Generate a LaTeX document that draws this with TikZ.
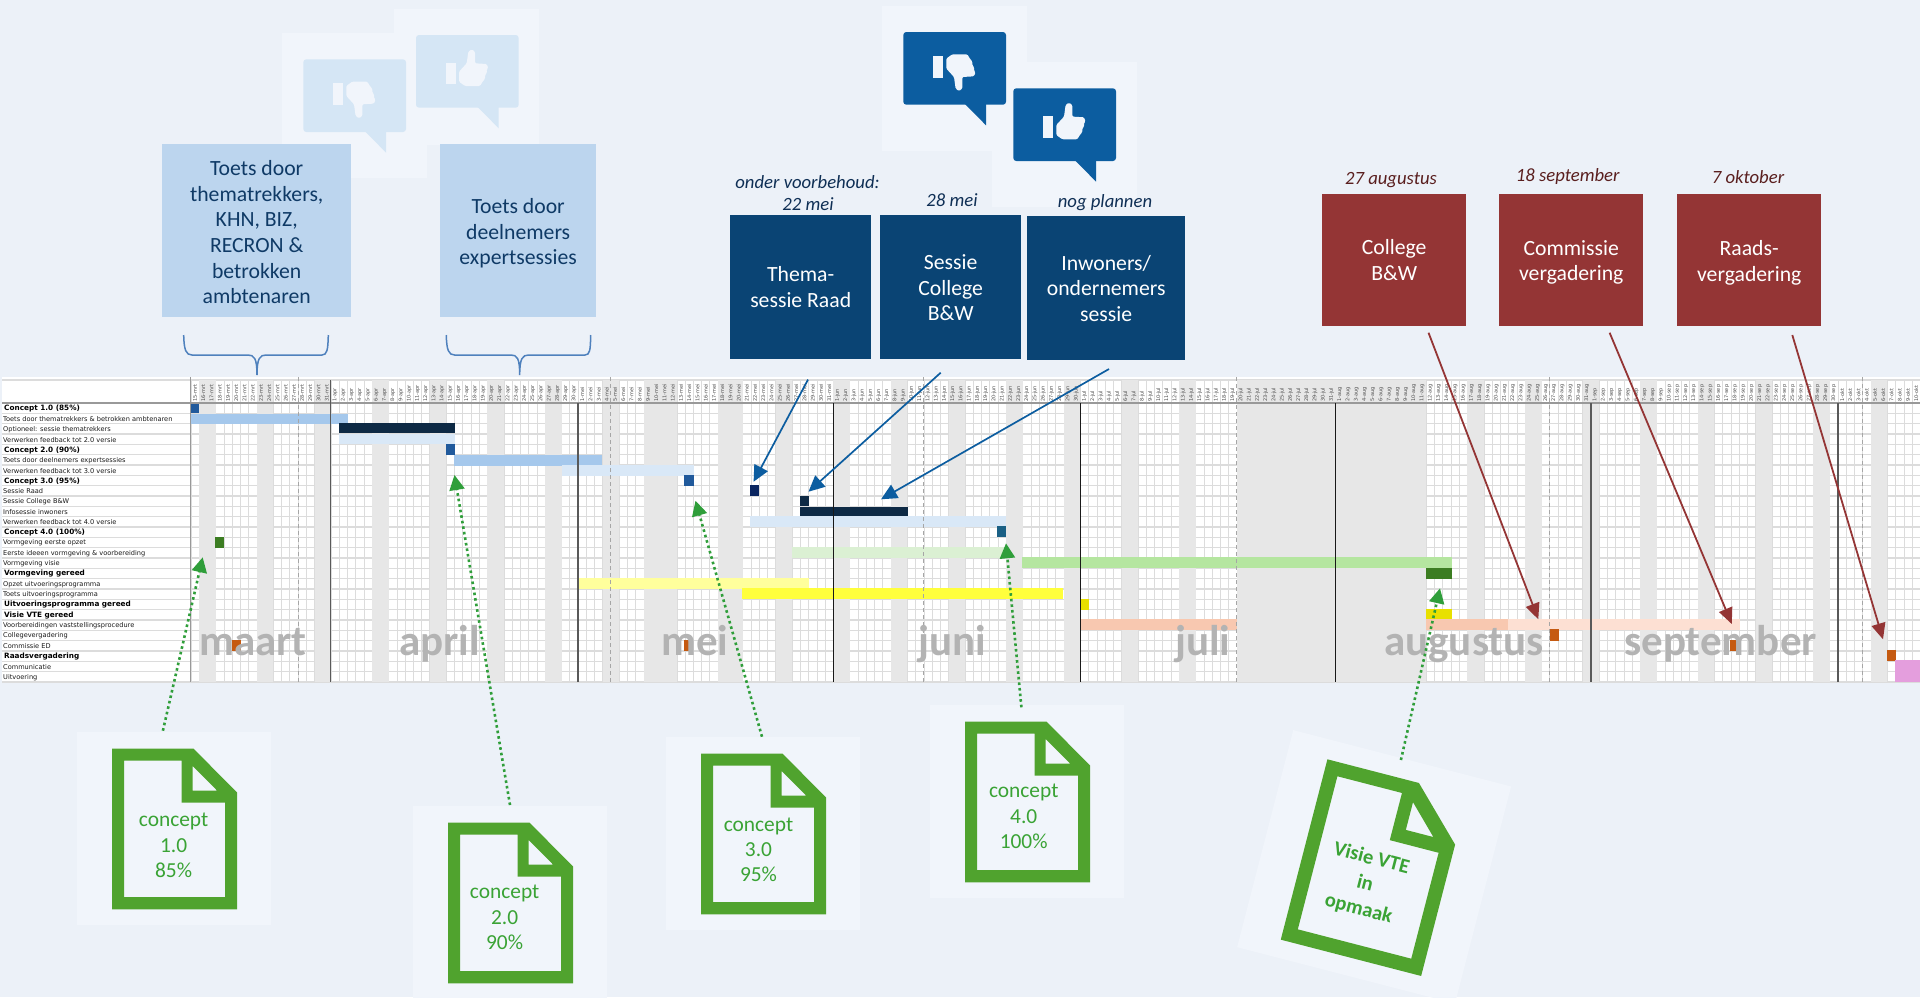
\documentclass[tikz,border=0pt]{standalone}
\usepackage{fontspec}
\setmainfont{Carlito}
\newfontfamily\gfont{DejaVu Sans}
\usetikzlibrary{arrows.meta}
\definecolor{bgc}{HTML}{ECF1F8}
\definecolor{panelc}{HTML}{F1F5FB}
\definecolor{lightbub}{HTML}{D5E6F5}
\definecolor{darkbub}{HTML}{0C5DA0}
\definecolor{lbox}{HTML}{BCD5EE}
\definecolor{ltext}{HTML}{0F3A66}
\definecolor{dbox}{HTML}{0A4474}
\definecolor{dlabel}{HTML}{0F2F55}
\definecolor{rbox}{HTML}{943535}
\definecolor{rlabel}{HTML}{5A1F1F}
\definecolor{brace}{HTML}{4F81BD}
\definecolor{gridc}{HTML}{DCDCDC}
\definecolor{bandc}{HTML}{E7E7E7}
\definecolor{monthc}{HTML}{B3B3B3}
\definecolor{docg}{HTML}{50A32E}
\definecolor{doct}{HTML}{3AA335}
\definecolor{dotg}{HTML}{2F9E3A}
\definecolor{mblue}{HTML}{215A9C}
\definecolor{bblue}{HTML}{A5C8EC}
\definecolor{pblue}{HTML}{D9E8F7}
\definecolor{navy}{HTML}{0E2A45}
\definecolor{navyb}{HTML}{0A2560}
\definecolor{teal}{HTML}{1A6085}
\definecolor{dgreen}{HTML}{3C7D22}
\definecolor{pgreen}{HTML}{DBF0D3}
\definecolor{mgreen}{HTML}{B5E6A0}
\definecolor{pyellow}{HTML}{FFFF9C}
\definecolor{myellow}{HTML}{FFFF3C}
\definecolor{dyellow}{HTML}{E8E000}
\definecolor{peach}{HTML}{F8C8B0}
\definecolor{ppeach}{HTML}{FDE0D3}
\definecolor{orangeb}{HTML}{C55A11}
\definecolor{pink}{HTML}{E49EDD}
\newcommand{\topstrut}[1]{\rule{0pt}{#1pt}}
\tikzset{
  panel/.style={fill=panelc},
  calibri/.style={font=\fontsize{21.7}{25.6}\selectfont,align=center},
  lightbox/.style={fill=lbox,text=ltext,calibri,inner sep=0pt,anchor=north west},
  darkbox/.style={fill=dbox,text=white,calibri,inner sep=0pt,anchor=north west},
  redbox/.style={fill=rbox,text=white,calibri,inner sep=0pt,anchor=north west},
  dlab/.style={text=dlabel,font=\fontsize{18.7}{21.7}\selectfont\itshape,align=center,anchor=base,inner sep=0pt},
  rlab/.style={text=rlabel,font=\fontsize{18.7}{21.7}\selectfont\itshape,align=center,anchor=base,inner sep=0pt},
  gridv/.style={draw=gridc,line width=0.7pt},
  gridh/.style={draw=gridc,line width=1.3pt},
  daylab/.style={rotate=90,anchor=west,inner sep=0pt,text=black!70,font=\gfont\fontsize{5}{5}\selectfont},
  rowlab/.style={anchor=west,inner sep=0pt,text=black!90,font=\gfont\fontsize{6.6}{7}\selectfont},
  rowlabb/.style={anchor=west,inner sep=0pt,text=black,font=\gfont\bfseries\fontsize{7.3}{7}\selectfont},
  monthlab/.style={anchor=base west,inner sep=0pt,text=monthc,font=\bfseries\fontsize{43}{44}\selectfont},
  monthline/.style={draw=black!65,line width=1.2pt},
  monthlineb/.style={draw=black!90,line width=0.9pt},
  holiday/.style={draw=black!35,line width=1pt,dash pattern=on 4pt off 3pt},
  bluearrow/.style={draw=darkbub,line width=1.7pt,-{Triangle[length=16pt,width=15pt]}},
  redarrow/.style={draw=rbox,line width=1.8pt,-{Triangle[length=16pt,width=14pt]}},
  greenarrow/.style={draw=dotg,line width=2.6pt,dash pattern=on 2.6pt off 3pt,-{Triangle[length=15pt,width=15pt]}},
  bracel/.style={draw=brace,line width=1.5pt},
  doclab/.style={text=doct,font=\fontsize{21.4}{25.3}\selectfont,align=center,inner sep=0pt},
}
\newcommand{\thumbshape}[1]{%
  \fill[#1] (29.7,27.7) rectangle (39.7,49.3);
  \fill[#1,rounded corners=1.2pt] (43,36.7)--(50.7,28.3)--(52.3,16.7)--(55.7,14.3)--(59,16.7)--(59,28.3)--(70.7,29)--(72.3,33.3)--(70.5,34.5)--(71,38)--(69,40)--(69,44)--(67,46)--(64,51)--(49,51)--(43,46.7)--cycle;}
\newcommand{\bubblebody}[3]{%
  \begin{scope}[shift={(#1,#2)}]
    \fill[#3,rounded corners=3pt] (0,0) rectangle (102.7,72.7);
    \fill[#3] (61.7,72) -- (82.7,93.3) -- (82.7,72) -- cycle;
  \end{scope}}
\newcommand{\bubbleup}[4]{\bubblebody{#1}{#2}{#3}%
  \begin{scope}[shift={(#1,#2)}]\thumbshape{#4}\end{scope}}
\newcommand{\bubbledown}[4]{\bubblebody{#1}{#2}{#3}%
  \begin{scope}[shift={(#1,#2+73.3)},yscale=-1]\thumbshape{#4}\end{scope}}
\newcommand{\docicon}[1]{%
  \begin{scope}[#1]
    \fill[docg,even odd rule] (0,0)--(81.5,0)--(125,43.6)--(125,160.6)--(0,160.6)--cycle
      (12,12)--(69.5,12)--(69.5,54)--(113,54)--(113,148.3)--(12,148.3)--cycle
      (80.7,17.3)--(80.7,42)--(105.2,42)--cycle;
  \end{scope}}
\newcommand{\gbar}[5]{\fill[#5] (#1,#2) rectangle (#3,#4);}
\begin{document}
\begin{tikzpicture}[x=1pt,y=-1pt]
\clip (0,0) rectangle (1920,997);
\fill[bgc] (0,0) rectangle (1920,997);
% icon panels
\fill[panel] (281.7,32.7) rectangle (427,177.7);
\fill[panel] (394,9) rectangle (539,144.7);
\fill[panel] (882,5.7) rectangle (1027,151);
\fill[panel] (992,62) rectangle (1137,207);
\bubbledown{303.3}{59.3}{lightbub}{panelc}
\bubbleup{416}{35}{lightbub}{panelc}
\bubbledown{903.3}{32}{darkbub}{panelc}
\bubbleup{1013.3}{88.3}{darkbub}{panelc}
% light boxes
\node[lightbox,minimum width=189pt,minimum height=172.7pt] (box1) at (162,144) {\topstrut{18.5}Toets door\\thematrekkers,\\KHN, BIZ,\\RECRON \&\\betrokken\\ambtenaren};
\node[lightbox,minimum width=156pt,minimum height=172.7pt] (box2) at (440,144) {\topstrut{20.5}Toets door\\deelnemers\\expertsessies};
% braces
\draw[bracel] (183.7,335) .. controls (184,350) and (186,355) .. (192,355) -- (248,355) .. controls (254,355) and (257,358) .. (257,375) .. controls (257,358) and (260,355) .. (266,355) -- (322,355) .. controls (327,355) and (328,350) .. (328.3,335);
\draw[bracel] (446.3,335) .. controls (446.6,350) and (448.6,355) .. (454.6,355) -- (511,355) .. controls (517,355) and (519.7,358) .. (519.7,375) .. controls (519.7,358) and (522.7,355) .. (528.7,355) -- (585,355) .. controls (590,355) and (590.4,350) .. (590.7,335);
% dark boxes
\node[darkbox,minimum width=141pt,minimum height=144pt] (sess1) at (730,215) {Thema-\\sessie Raad};
\node[darkbox,minimum width=141pt,minimum height=144pt] (sess2) at (880,215) {\topstrut{16}Sessie\\College\\B\&W};
\node[darkbox,minimum width=158pt,minimum height=144pt] (sess3) at (1027,216) {Inwoners/\\ondernemers\\sessie};
\node[dlab] (dl1a) at (807.5,188) {onder voorbehoud:};
\node[dlab] (dl1b) at (808,210) {22 mei};
\node[dlab] (dl2) at (952,206) {28 mei};
\node[dlab] (dl3) at (1105,207) {nog plannen};
% red boxes
\node[redbox,minimum width=144pt,minimum height=132pt] (rb1) at (1322,194) {College\\B\&W};
\node[redbox,minimum width=144pt,minimum height=132pt] (rb2) at (1499,194) {\topstrut{19.6}Commissie\\vergadering};
\node[redbox,minimum width=144pt,minimum height=132pt] (rb3) at (1677,194) {\topstrut{20.3}Raads-\\vergadering};
\node[rlab] (rl1) at (1391,184) {27 augustus};
\node[rlab] (rl2) at (1567.7,181.7) {18 september};
\node[rlab] (rl3) at (1748,183) {7 oktober};
% gantt background and grid
\fill[white] (2,377) rectangle (1920,682);
\foreach \i in {0,...,210} \draw[gridv] ({191+8.235*\i},380) -- ++(0,302);
\draw[gridh] (2,380) -- (1920,380);
\foreach \i in {0,...,27} \draw[gridh] (2,{403+10.33*\i}) -- (1920,{403+10.33*\i});
\foreach \a/\b in {1/3,8/10,15/17,22/24,29/31,36/38,43/45,50/52,55/59,64/67,71/73,78/80,85/87,92/94,99/101,106/108,113/115,120/122,127/150,155/157,162/164,169/171,176/178,183/185,190/192,197/199,204/206}
  \fill[bandc] ({191+8.235*\a},380) rectangle ({191+8.235*\b},682);
\draw[draw=black!40,line width=1.3pt] (2,403) -- (1920,403);
\draw[draw=black!40,line width=1pt] (190.7,377) -- (190.7,682);
% day labels
\foreach \m/\a/\b/\s in {mrt/15/31/0,apr/1/30/17,mei/1/31/47,jun/1/30/78,jul/1/31/108,aug/1/31/139,sep/1/30/170,okt/1/10/200}{
  \foreach \d in {\a,...,\b}
    \node[daylab] (h\m\d) at ({191+8.235*(\s+\d-\a+0.5)},402) {\d-\m};
}
% row labels
\foreach \i/\t in {1/Toets door thematrekkers \& betrokken ambtenaren,2/Optioneel: sessie thematrekkers,3/Verwerken feedback tot 2.0 versie,5/Toets door deelnemers expertsessies,6/Verwerken feedback tot 3.0 versie,8/Sessie Raad,9/Sessie College B\&W,10/Infosessie inwoners/ondernemers,11/Verwerken feedback tot 4.0 versie,13/Vormgeving eerste opzet,14/Eerste ideeen vormgeving \& voorbereiding,15/Vormgeving visie,17/Opzet uitvoeringsprogramma,18/Toets uitvoeringsprogramma,21/Voorbereidingen vaststellingsprocedure,22/Collegevergadering,23/Commissie ED,25/Communicatie,26/Uitvoering}
  \node[rowlab] (row\i) at (3,{408.7+10.33*\i}) {\t};
\foreach \i/\t in {0/Concept 1.0 (85\%),4/Concept 2.0 (90\%),7/Concept 3.0 (95\%),12/Concept 4.0 (100\%),16/Vormgeving gereed,19/Uitvoeringsprogramma gereed,20/Visie VTE gereed,24/Raadsvergadering}
  \node[rowlabb] (row\i) at (4,{408.7+10.33*\i}) {\t};
% bars
\gbar{191}{403.5}{198.7}{413.3}{mblue}
\gbar{191}{413.5}{347.7}{424}{bblue}
\gbar{338.7}{423.3}{455}{433.3}{navy}
\gbar{338.7}{434}{455}{444}{pblue}
\gbar{446}{444}{455}{455.3}{mblue}
\gbar{454}{454.7}{601.8}{465.7}{bblue}
\gbar{561.6}{465}{694.2}{475.7}{pblue}
\gbar{684.4}{475}{694.2}{486}{mblue}
\gbar{750.4}{485.3}{759.4}{496.3}{navyb}
\gbar{800}{495.7}{809}{506}{navy}
\gbar{800}{506.7}{908}{516}{navy}
\gbar{750.4}{516}{1005.8}{527}{pblue}
\gbar{997.3}{526.3}{1005.8}{537.3}{teal}
\gbar{215}{536.7}{224.3}{547.7}{dgreen}
\gbar{791.5}{547}{1005.8}{558}{pgreen}
\gbar{1021.9}{557.3}{1451.5}{568.3}{mgreen}
\gbar{1425.8}{567.7}{1451.5}{578.7}{dgreen}
\gbar{578.6}{578}{808.5}{589}{pyellow}
\gbar{742}{588.3}{1063.4}{599.3}{myellow}
\gbar{1080.8}{598.7}{1088.8}{609.7}{dyellow}
\gbar{1425.8}{609}{1451.5}{619.3}{dyellow}
\gbar{1080.8}{619.3}{1237}{630}{peach}
\gbar{1425.8}{619.3}{1508}{630}{peach}
\gbar{1508}{619.3}{1739.6}{630}{ppeach}
\gbar{1549.8}{629.3}{1558.7}{640.7}{orangeb}
\gbar{231.7}{640}{240.7}{651}{orangeb}
\gbar{684.4}{640}{692}{651}{orangeb}
\gbar{1730}{640}{1738.7}{651}{orangeb}
\gbar{1887}{650}{1896}{661}{orangeb}
\gbar{1895}{660}{1920}{681.7}{pink}
% holiday and month lines
\foreach \d in {13,51,89,127,165,203} \draw[holiday] ({191+8.235*\d},377) -- ({191+8.235*\d},682);
\draw[monthline] (330.7,380) -- (330.7,682);
\foreach \d in {47,170,200} \draw[monthline] ({191+8.235*\d},403) -- ({191+8.235*\d},682);
\foreach \d in {78,108,139} \draw[monthlineb] ({191+8.235*\d},403) -- ({191+8.235*\d},682);
% month names
\node[monthlab] (m3) at (199,655) {maart};
\node[monthlab] (m4) at (399,655) {april};
\node[monthlab] (m5) at (661,655) {mei};
\node[monthlab] (m6) at (918,655) {juni};
\node[monthlab] (m7) at (1175,655) {juli};
\node[monthlab] (m8) at (1384,655) {augustus};
\node[monthlab] (m9) at (1624,655) {september};
% document icons
\fill[panel] (77.2,731.7) rectangle (271.2,925);
\fill[panel] (412.7,805.7) rectangle (606.7,999);
\fill[panel] (666,736.7) rectangle (860,930);
\fill[panel] (930,705) rectangle (1124,898.3);
\fill[panel,shift={(1327.4,759.3)},rotate=-14.5,scale=1.16] (-34.8,-17) rectangle (159.2,176.3);
\docicon{shift={(112,748.7)}}
\docicon{shift={(448,822.7)}}
\docicon{shift={(701,753.7)}}
\docicon{shift={(965,721.7)}}
\docicon{shift={(1327.4,759.3)},rotate=-14.5,scale=1.16}
\node[doclab] (d1) at (173.6,845.5) {concept\\1.0\\85\%};
\node[doclab] (d2) at (504.6,917.5) {concept\\2.0\\90\%};
\node[doclab] (d3) at (758.5,850) {concept\\3.0\\95\%};
\node[doclab] (d4) at (1023.7,816.5) {concept\\4.0\\100\%};
\node[doclab,rotate=-14.5,font=\bfseries\fontsize{20.5}{26}\selectfont] (d5) at (1365,884) {Visie VTE\\in\\opmaak};
% arrow ends
\coordinate (bs1) at (808,379.6);  \coordinate (bt1) at (753.6,481.7);
\coordinate (bs2) at (940.7,372.7);\coordinate (bt2) at (808.5,491.7);
\coordinate (bs3) at (1109,369);   \coordinate (bt3) at (881,499.3);
\coordinate (rs1) at (1428.5,332.7);\coordinate (rt1) at (1538.3,619.3);
\coordinate (rs2) at (1609.6,332.7);\coordinate (rt2) at (1731.8,624);
\coordinate (rs3) at (1792.3,335);  \coordinate (rt3) at (1883,639.3);
\coordinate (gs1) at (162.9,730.7);\coordinate (gt1) at (202.7,557.3);
\coordinate (gs2) at (510,805);    \coordinate (gt2) at (454.5,475);
\coordinate (gs3) at (762,736.7);  \coordinate (gt3) at (695.5,500.7);
\coordinate (gs4) at (1021.4,707.3);\coordinate (gt4) at (1006,543.3);
\coordinate (gs5) at (1400.9,760); \coordinate (gt5) at (1440,588.3);
\foreach \n in {1,2,3} \draw[bluearrow] (bs\n) -- (bt\n);
\foreach \n in {1,2,3} \draw[redarrow] (rs\n) -- (rt\n);
\foreach \n in {1,2,3,4,5} \draw[greenarrow] (gs\n) -- (gt\n);
\end{tikzpicture}
\end{document}
